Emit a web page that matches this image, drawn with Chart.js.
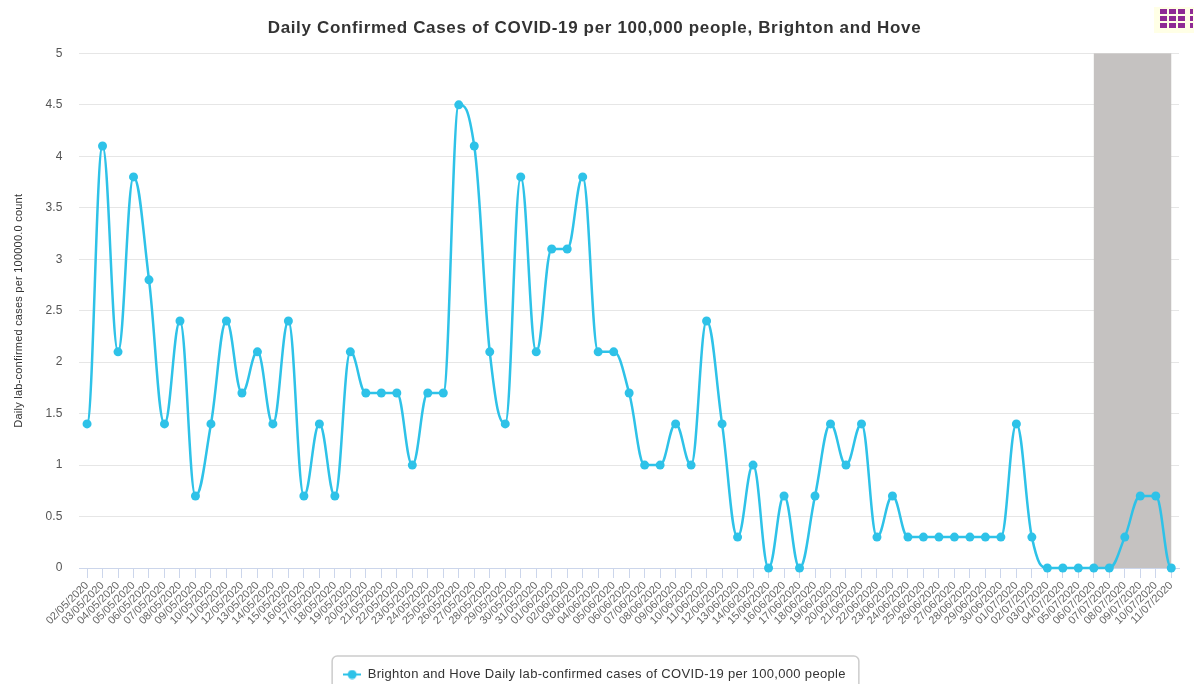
<!DOCTYPE html>
<html>
<head>
<meta charset="utf-8">
<title>Daily Confirmed Cases</title>
<script src="https://cdn.jsdelivr.net/npm/chart.js@4/dist/chart.umd.min.js"></script>
<style>
  html, body { margin: 0; padding: 0; background: #fff; overflow: hidden; }
  canvas { display: block; }
</style>
</head>
<body>
<canvas id="myChart" width="1200" height="684"></canvas>
<script>
const dates = [
  "02/05/2020","03/05/2020","04/05/2020","05/05/2020","06/05/2020","07/05/2020","08/05/2020","09/05/2020","10/05/2020","11/05/2020",
  "12/05/2020","13/05/2020","14/05/2020","15/05/2020","16/05/2020","17/05/2020","18/05/2020","19/05/2020","20/05/2020","21/05/2020",
  "22/05/2020","23/05/2020","24/05/2020","25/05/2020","26/05/2020","27/05/2020","28/05/2020","29/05/2020","30/05/2020","31/05/2020",
  "01/06/2020","02/06/2020","03/06/2020","04/06/2020","05/06/2020","06/06/2020","07/06/2020","08/06/2020","09/06/2020","10/06/2020",
  "11/06/2020","12/06/2020","13/06/2020","14/06/2020","15/06/2020","16/06/2020","17/06/2020","18/06/2020","19/06/2020","20/06/2020",
  "21/06/2020","22/06/2020","23/06/2020","24/06/2020","25/06/2020","26/06/2020","27/06/2020","28/06/2020","29/06/2020","30/06/2020",
  "01/07/2020","02/07/2020","03/07/2020","04/07/2020","05/07/2020","06/07/2020","07/07/2020","08/07/2020","09/07/2020","10/07/2020","11/07/2020"
];
const cases = [
  1.4,4.1,2.1,3.8,2.8,1.4,2.4,0.7,1.4,2.4,
  1.7,2.1,1.4,2.4,0.7,1.4,0.7,2.1,1.7,1.7,
  1.7,1.0,1.7,1.7,4.5,4.1,2.1,1.4,3.8,2.1,
  3.1,3.1,3.8,2.1,2.1,1.7,1.0,1.0,1.4,1.0,
  2.4,1.4,0.3,1.0,0,0.7,0,0.7,1.4,1.0,
  1.4,0.3,0.7,0.3,0.3,0.3,0.3,0.3,0.3,0.3,
  1.4,0.3,0,0,0,0,0,0.3,0.7,0.7,0
];
const yTicks = [0,0.5,1,1.5,2,2.5,3,3.5,4,4.5,5];
const bandDates = ["06/07/2020","11/07/2020"];

const chartTitle = "Daily Confirmed Cases of COVID-19 per 100,000 people, Brighton and Hove";
const seriesName = "Brighton and Hove Daily lab-confirmed cases of COVID-19 per 100,000 people";
const yTitle = "Daily lab-confirmed cases per 100000.0 count";
const lineColor = "#2ec2e8";

// legend symbol, line with a dot on it
const legendIcon = document.createElement('canvas');
legendIcon.width = 18;
legendIcon.height = 10;
let ic = legendIcon.getContext('2d');
ic.strokeStyle = lineColor;
ic.lineWidth = 2;
ic.beginPath();
ic.moveTo(0, 5);
ic.lineTo(18, 5);
ic.stroke();
ic.fillStyle = lineColor;
ic.beginPath();
ic.arc(9, 5, 4.5, 0, Math.PI * 2);
ic.fill();

// the text in the picture runs wider than the font, so space it out a bit
function spaced(obj, method, px) {
  const orig = obj[method];
  obj[method] = function() {
    const c = this.ctx;
    c.letterSpacing = px;
    const r = orig.apply(this, arguments);
    c.letterSpacing = '0px';
    return r;
  };
}
const textSpacing = {
  id: 'textSpacing',
  afterInit(chart) {
    spaced(chart.titleBlock, 'draw', '0.65px');
    spaced(chart.legend, 'fit', '0.33px');
    spaced(chart.legend, 'draw', '0.33px');
  },
  beforeDraw(chart) {
    if (!chart.scales.y.spacedTitle) {
      spaced(chart.scales.y, 'drawTitle', '0.23px');
      chart.scales.y.spacedTitle = true;
    }
  }
};

// same spline as the original chart: flat at peaks, no overshoot past the neighbours
const splineCurve = {
  id: 'splineCurve',
  afterDatasetsUpdate(chart) {
    const meta = chart.getDatasetMeta(0);
    meta.dataset.updateControlPoints(chart.chartArea, 'x');
    const pts = meta.data;
    for (let i = 0; i < pts.length; i++) {
      const p = pts[i], prev = pts[i - 1] || p, next = pts[i + 1] || p;
      const leftX = (1.5 * p.x + prev.x) / 2.5;
      let leftY = (1.5 * p.y + prev.y) / 2.5;
      const rightX = (1.5 * p.x + next.x) / 2.5;
      let rightY = (1.5 * p.y + next.y) / 2.5;
      if (rightX != leftX) {
        const correction = ((rightY - leftY) * (rightX - p.x)) / (rightX - leftX) + p.y - rightY;
        leftY += correction;
        rightY += correction;
      }
      if (leftY > prev.y && leftY > p.y) {
        leftY = Math.max(prev.y, p.y);
        rightY = 2 * p.y - leftY;
      } else if (leftY < prev.y && leftY < p.y) {
        leftY = Math.min(prev.y, p.y);
        rightY = 2 * p.y - leftY;
      }
      if (rightY > next.y && rightY > p.y) {
        rightY = Math.max(next.y, p.y);
        leftY = 2 * p.y - rightY;
      } else if (rightY < next.y && rightY < p.y) {
        rightY = Math.min(next.y, p.y);
        leftY = 2 * p.y - rightY;
      }
      p.cp1x = leftX;
      p.cp1y = leftY;
      p.cp2x = rightX;
      p.cp2y = rightY;
    }
  }
};

// grey band behind the line (last days, data still incomplete)
const plotBand = {
  id: 'plotBand',
  beforeDatasetsDraw(chart) {
    const x = chart.scales.x, y = chart.scales.y;
    const x0 = x.getPixelForValue(dates.indexOf(bandDates[0]));
    const x1 = x.getPixelForValue(dates.indexOf(bandDates[1]));
    const c = chart.ctx;
    c.save();
    c.fillStyle = '#c5c2c1';
    c.fillRect(x0, y.getPixelForValue(5), x1 - x0, y.getPixelForValue(0) - y.getPixelForValue(5));
    c.restore();
  }
};

// border around the legend, runs off the bottom of the page
const legendBorder = {
  id: 'legendBorder',
  afterDraw(chart) {
    const box = chart.legend.legendHitBoxes[0];
    const c = chart.ctx;
    c.save();
    c.strokeStyle = '#cccccc';
    c.lineWidth = 1.5;
    c.beginPath();
    c.roundRect(box.left - 11, box.top - 12, box.width + 24, 60, 5);
    c.stroke();
    c.restore();
  }
};

// export menu icon in the top right corner
const menuIcon = {
  id: 'menuIcon',
  afterDraw(chart) {
    const c = chart.ctx;
    c.save();
    c.fillStyle = '#ffffe6';
    c.fillRect(1154, 7, 40, 26);
    c.fillStyle = '#8e2a94';
    [9, 16, 23].forEach(function(top) {
      [1160, 1169, 1178, 1190].forEach(function(left) {
        c.fillRect(left, top, left == 1190 ? 3 : 7, 5);
      });
    });
    c.restore();
  }
};

let demoChart = new Chart(document.getElementById('myChart').getContext('2d'), {
  type: 'line',
  plugins: [textSpacing, splineCurve, plotBand, legendBorder, menuIcon],
  data: {
    labels: dates,
    datasets: [{
      label: seriesName,
      data: cases,
      borderColor: lineColor,
      backgroundColor: lineColor,
      borderWidth: 2.5,
      pointRadius: 4.5,
      pointStyle: 'circle',
      pointBackgroundColor: lineColor,
      pointBorderColor: lineColor,
      pointBorderWidth: 0,
      tension: 0.4,
      clip: false
    }]
  },
  options: {
    responsive: false,
    animation: false,
    layout: { padding: { left: 10, right: 21, top: 0, bottom: -7 } },
    plugins: {
      title: {
        display: true,
        text: chartTitle,
        color: '#333333',
        font: { family: '"Liberation Sans"', size: 17, weight: 'bold' },
        padding: { top: 18, bottom: 15 }
      },
      legend: {
        position: 'bottom',
        labels: {
          usePointStyle: true,
          pointStyle: legendIcon,
          pointStyleWidth: 18,
          color: '#333333',
          font: { family: '"Liberation Sans"', size: 13 },
          padding: 5,
          boxHeight: 12
        }
      },
      tooltip: { enabled: false }
    },
    scales: {
      x: {
        offset: true,
        afterFit(scale) { scale.height = 95; },
        grid: {
          offset: false,
          drawOnChartArea: false,
          color: '#ccd6eb',
          tickLength: 10,
          tickColor: '#ccd6eb'
        },
        border: { color: '#ccd6eb' },
        ticks: {
          autoSkip: false,
          minRotation: 45,
          maxRotation: 45,
          padding: 1,
          color: '#666666',
          font: { family: '"Liberation Sans"', size: 11 }
        }
      },
      y: {
        min: 0,
        max: 5,
        afterBuildTicks(scale) { scale.ticks = yTicks.map(function(v) { return { value: v }; }); },
        afterFit(scale) { scale.width = 69.3; },
        title: {
          display: true,
          text: yTitle,
          color: '#333333',
          font: { family: '"Liberation Sans"', size: 11 },
          padding: { top: 2, bottom: 0 }
        },
        grid: { color: '#e6e6e6', drawTicks: false },
        border: { display: false },
        ticks: {
          padding: 17,
          color: '#555555',
          font: { family: '"Liberation Sans"', size: 12 },
          callback: function(value) { return value; }
        }
      }
    }
  }
});
</script>
</body>
</html>
